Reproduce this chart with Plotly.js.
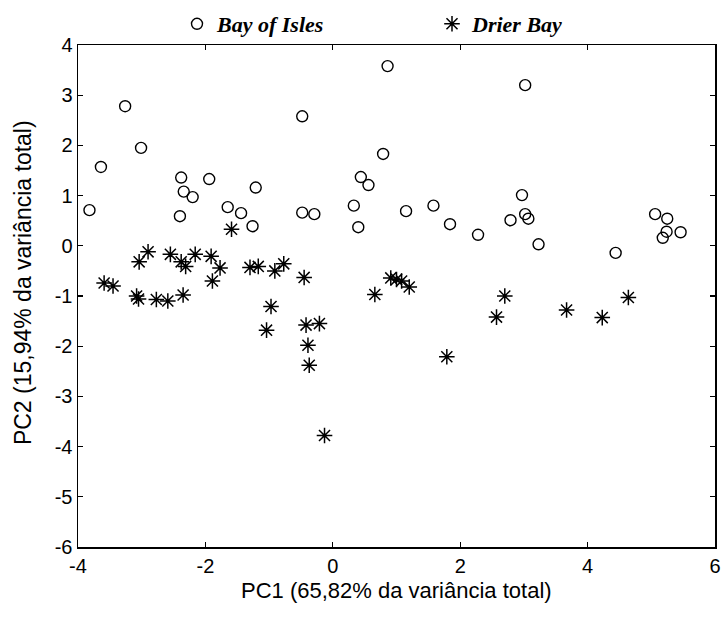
<!DOCTYPE html>
<html>
<head>
<meta charset="utf-8">
<script src="https://cdn.plot.ly/plotly-3.0.1.min.js"></script>
<style>html,body{margin:0;padding:0;background:#fff;}#chart{width:726px;height:617px;}</style>
</head>
<body>
<div id="chart"></div>
<script>
// Bay of Isles (open circles)
var islesPC1 = [-3.82,-3.64,-3.26,-3.01,-2.38,-2.34,-2.20,-2.40,-1.94,-1.65,-1.44,-1.21,-1.26,
  -0.48,0.86,0.79,0.44,0.56,-0.48,-0.29,0.33,0.40,1.15,1.58,1.84,2.28,2.79,2.97,3.02,3.02,3.07,3.23,
  4.44,5.06,5.25,5.24,5.18,5.46];
var islesPC2 = [0.71,1.57,2.78,1.95,1.36,1.08,0.97,0.59,1.33,0.77,0.65,1.16,0.39,
  2.58,3.58,1.83,1.37,1.21,0.66,0.63,0.80,0.37,0.69,0.80,0.43,0.22,0.51,1.01,3.20,0.63,0.54,0.03,
  -0.14,0.63,0.54,0.28,0.16,0.27];
// Drier Bay (asterisks)
var drierPC1 = [-1.59,-3.59,-3.45,-3.04,-2.90,-3.08,-3.05,-2.77,-2.59,-2.35,-2.55,-2.38,-2.31,-2.16,
  -1.91,-1.89,-1.77,-1.30,-1.17,-0.91,-0.77,-0.97,-1.04,-0.45,-0.42,-0.21,-0.39,-0.37,-0.13,
  0.66,0.91,1.00,1.08,1.20,1.79,2.57,2.70,3.67,4.23,4.64];
var drierPC2 = [0.33,-0.74,-0.80,-0.32,-0.12,-1.00,-1.06,-1.07,-1.10,-0.98,-0.17,-0.32,-0.41,-0.17,
  -0.21,-0.70,-0.44,-0.43,-0.41,-0.50,-0.36,-1.21,-1.68,-0.63,-1.58,-1.55,-1.98,-2.38,-3.78,
  -0.97,-0.64,-0.67,-0.70,-0.82,-2.21,-1.42,-1.00,-1.28,-1.43,-1.03];

var seriesNames = ['<b><i>Bay of Isles</i></b>', '<b><i>Drier Bay</i></b>'];
var xTitle = 'PC1 (65,82% da variância total)';
var yTitle = 'PC2 (15,94% da variância total)';
var xTickVals = [-4, -2, 0, 2, 4, 6];
var xTickText = ['-4', '-2', '0', '2', '4', '6'];
var yTickVals = [-6, -5, -4, -3, -2, -1, 0, 1, 2, 3, 4];
var yTickText = ['-6', '-5', '-4', '-3', '-2', '-1', '0', '1', '2', '3', '4'];

var traces = [
  {x: islesPC1, y: islesPC2, name: seriesNames[0], type: 'scatter', mode: 'markers',
   marker: {symbol: 'circle-open', size: 11, color: '#000', line: {width: 1.4, color: '#000'}}},
  {x: drierPC1, y: drierPC2, name: seriesNames[1], type: 'scatter', mode: 'markers',
   marker: {symbol: 'asterisk-open', size: 13, color: '#000', line: {width: 1.5, color: '#000'}}}
];

var axisCommon = {
  showgrid: false, zeroline: false, showline: true, linecolor: '#000', linewidth: 1.5,
  mirror: 'ticks', ticks: 'inside', ticklen: 5, tickwidth: 1.2, tickcolor: '#000',
  tickmode: 'array',
  tickfont: {family: 'Liberation Sans, Arial, sans-serif', size: 20, color: '#000'}
};

var layout = {
  width: 726, height: 617,
  margin: {l: 78, r: 11, t: 41, b: 70},
  paper_bgcolor: '#fff', plot_bgcolor: '#fff',
  font: {family: 'Liberation Sans, Arial, sans-serif', color: '#000'},
  xaxis: Object.assign({}, axisCommon, {
    range: [-4, 6], tickvals: xTickVals, ticktext: xTickText
  }),
  yaxis: Object.assign({}, axisCommon, {
    range: [-6, 4], tickvals: yTickVals, ticktext: yTickText
  }),
  annotations: [
    {text: xTitle, xref: 'paper', yref: 'paper', x: 0.5, xanchor: 'center',
     y: (617 - 70 - 591) / (617 - 41 - 70), yanchor: 'middle', showarrow: false,
     font: {family: 'Liberation Sans, Arial, sans-serif', size: 22, color: '#000'}},
    {text: yTitle, xref: 'paper', yref: 'paper', textangle: -90,
     x: (23 - 78) / (726 - 78 - 11), xanchor: 'center',
     y: (617 - 70 - 281) / (617 - 41 - 70), yanchor: 'middle', showarrow: false,
     font: {family: 'Liberation Sans, Arial, sans-serif', size: 23, color: '#000'}}
  ],
  showlegend: true,
  legend: {
    orientation: 'h', xref: 'container', yref: 'container',
    x: 177/726, xanchor: 'left', y: 1 - 3/617, yanchor: 'top',
    entrywidthmode: 'pixels', entrywidth: 210,
    itemwidth: 30, borderwidth: 0, bgcolor: 'rgba(0,0,0,0)',
    font: {family: 'Liberation Serif, Times New Roman, serif', size: 22, color: '#000'}
  }
};

Plotly.newPlot('chart', traces, layout, {displayModeBar: false, staticPlot: true});
</script>
</body>
</html>
